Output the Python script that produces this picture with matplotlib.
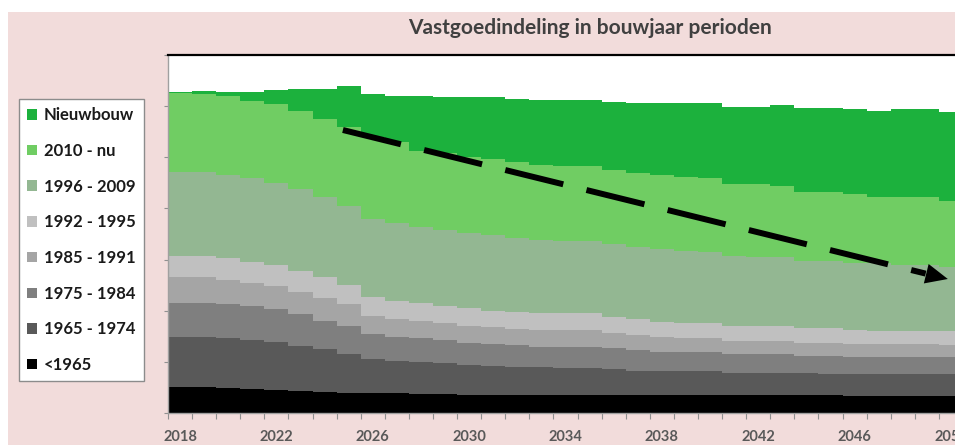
import numpy as np
import matplotlib
matplotlib.use("Agg")
import matplotlib.pyplot as plt
from matplotlib.patches import Patch, Rectangle

plt.rcParams['font.family'] = ['Lato', 'DejaVu Sans']

# jaren (categorie-as)
years = list(range(2018, 2051))

# waarden per bouwjaarperiode (gestapeld, van onder naar boven)
pre1965 = [26.3, 26.3, 25.3, 23.7, 23.0, 22.3, 21.0, 19.7, 19.7, 19.7, 18.7,
           18.7, 18.0, 18.0, 18.0, 18.0, 18.0, 18.0, 18.0, 18.0, 18.0, 18.0,
           18.0, 18.0, 18.0, 18.0, 18.0, 18.0, 17.5, 17.5, 17.5, 17.5, 17.5]
p1965_1974 = [50.0, 50.0, 49.4, 49.3, 47.7, 44.7, 43.3, 39.3, 34.6, 32.6, 32.6,
              31.6, 30.0, 29.3, 28.3, 27.7, 27.3, 27.3, 25.7, 24.0, 24.0, 24.0,
              24.0, 22.3, 22.3, 22.3, 22.3, 20.7, 21.2, 21.2, 21.2, 21.2, 21.2]
p1975_1984 = [34.0, 34.0, 34.3, 34.0, 33.3, 32.0, 28.0, 28.0, 24.7, 23.4, 23.4,
              22.7, 22.3, 21.7, 21.4, 20.6, 21.0, 21.0, 21.0, 21.0, 19.3, 18.7,
              18.7, 18.4, 18.4, 18.4, 16.7, 18.3, 17.6, 17.6, 17.6, 17.6, 17.6]
p1985_1991 = [25.4, 25.4, 24.0, 23.3, 23.0, 22.3, 23.0, 22.0, 18.0, 18.0, 17.6,
              16.7, 17.0, 16.7, 16.6, 16.7, 16.7, 16.7, 15.0, 15.0, 15.0, 14.6,
              14.6, 13.3, 13.3, 13.3, 12.7, 12.7, 12.7, 12.7, 12.7, 12.7, 11.7]
p1992_1995 = [21.6, 21.6, 21.7, 20.4, 21.0, 20.7, 20.4, 19.0, 19.3, 18.6, 18.0,
              17.6, 17.7, 16.6, 17.0, 16.7, 16.7, 16.7, 16.6, 15.7, 15.0, 14.4,
              14.4, 15.0, 15.0, 15.0, 15.0, 15.0, 14.0, 13.3, 13.3, 13.3, 14.3]
p1996_2009 = [84.0, 84.0, 83.3, 84.0, 81.7, 81.7, 80.6, 79.3, 78.0, 77.4, 76.0,
              75.7, 75.3, 76.0, 74.0, 73.3, 72.3, 72.3, 72.7, 72.6, 72.7, 72.3,
              71.3, 70.0, 69.3, 69.0, 67.6, 67.3, 67.0, 67.4, 65.7, 65.7, 63.4]
p2010_nu = [78.4, 77.4, 79.0, 77.6, 79.3, 78.6, 77.4, 79.0, 81.4, 81.6, 76.0,
            76.7, 76.0, 75.4, 76.0, 75.0, 75.0, 75.0, 74.0, 74.0, 74.0, 74.3,
            73.7, 72.0, 72.7, 71.0, 69.0, 69.3, 69.0, 66.6, 68.3, 67.7, 66.6]
nieuwbouw = [1.0, 3.0, 4.3, 9.0, 14.0, 22.0, 30.6, 40.7, 43.0, 45.7, 54.7,
             56.0, 59.4, 62.0, 62.7, 64.7, 65.7, 65.7, 68.3, 69.7, 72.0, 73.7,
             75.3, 77.3, 77.3, 80.7, 83.7, 83.7, 85.0, 86.0, 87.4, 88.0, 89.0]

series = [pre1965, p1965_1974, p1975_1984, p1985_1991,
          p1992_1995, p1996_2009, p2010_nu, nieuwbouw]
labels = ['<1965', '1965 - 1974', '1975 - 1984', '1985 - 1991',
          '1992 - 1995', '1996 - 2009', '2010 - nu', 'Nieuwbouw']
colors = ['#000000', '#595959', '#7f7f7f', '#a5a5a5',
          '#c0c0c0', '#93b792', '#70cd63', '#1cb13d']

fig = plt.figure(figsize=(9.55, 4.45), dpi=100)
fig.patches.append(Rectangle((8 / 955, 0), 1, 433 / 445, transform=fig.transFigure,
                             facecolor='#f2dcdb', edgecolor='none', zorder=-10))

ax = fig.add_axes([168 / 955, 32 / 445, 795 / 955, 358 / 445])
ax.set_facecolor('white')

# gestapelde kolommen zonder tussenruimte -> trappen
edges = np.arange(years[0] - 0.5, years[-1] + 1.0, 1.0)
bottom = np.zeros(len(years))
for vals, lab, col in zip(series, labels, colors):
    top = bottom + np.array(vals)
    ax.stairs(top, edges, baseline=bottom.copy(), fill=True, color=col,
              linewidth=0, label=lab, zorder=2)
    bottom = top

ax.set_xlim(2017.5, 2050.5)
ax.set_ylim(0, 358)

# stippellijn-pijl
x0, y0 = 2024.76, 283
xb, yb = 2048.95, 139.4
x1, y1 = 2049.87, 134
ax.plot([x0, xb], [y0, yb], color='k', lw=4.3, ls=(0, (10, 4)),
        dash_capstyle='butt', zorder=5)
ax.annotate('', xy=(x1, y1), xytext=(xb - 0.4, yb + 2.4),
            arrowprops=dict(arrowstyle='-|>,head_length=1.0,head_width=0.45',
                            mutation_scale=16, color='k', lw=0,
                            shrinkA=0, shrinkB=0), zorder=6)

# assen
ax.set_xticks(edges)
ax.set_xticklabels([])
ax.set_xticks(years[::4], minor=True)
ax.set_xticklabels([str(y) for y in years[::4]], minor=True)
ax.tick_params(axis='x', which='major', length=4, width=0.8, color='#909090')
ax.tick_params(axis='x', which='minor', length=0, pad=12, labelsize=10.5,
               labelcolor='#595959')
for t in ax.get_xticklabels(minor=True):
    t.set_fontweight('bold')
ax.set_yticks(np.linspace(0, 358, 8))
ax.set_yticklabels([])
ax.tick_params(axis='y', length=3, width=0.8, color='#909090')

for s in ['left', 'bottom']:
    ax.spines[s].set_color('#a0a0a0')
    ax.spines[s].set_linewidth(1)
ax.spines['top'].set_color('black')
ax.spines['top'].set_linewidth(1.6)
ax.spines['right'].set_visible(False)

fig.text(590 / 955, 1 - 28 / 445, 'Vastgoedindeling in bouwjaar perioden',
         ha='center', va='center', fontsize=15, fontweight='bold', color='#404040')

handles = [Patch(facecolor=c, edgecolor='none') for c in colors][::-1]
leg = fig.legend(handles, labels[::-1], loc='upper left',
                 bbox_to_anchor=(19 / 955, 1 - 99 / 445),
                 bbox_transform=fig.transFigure, borderaxespad=0,
                 prop=dict(family='Lato', weight='bold', size=12),
                 handlelength=0.6, handleheight=0.6, handletextpad=0.4,
                 labelspacing=1.18, borderpad=0.5, fancybox=False,
                 framealpha=1, edgecolor='#8c8c8c')
leg.get_frame().set_linewidth(1)
for t in leg.get_texts():
    t.set_color('#1a1a1a')

fig.savefig('out.png', dpi=100)
